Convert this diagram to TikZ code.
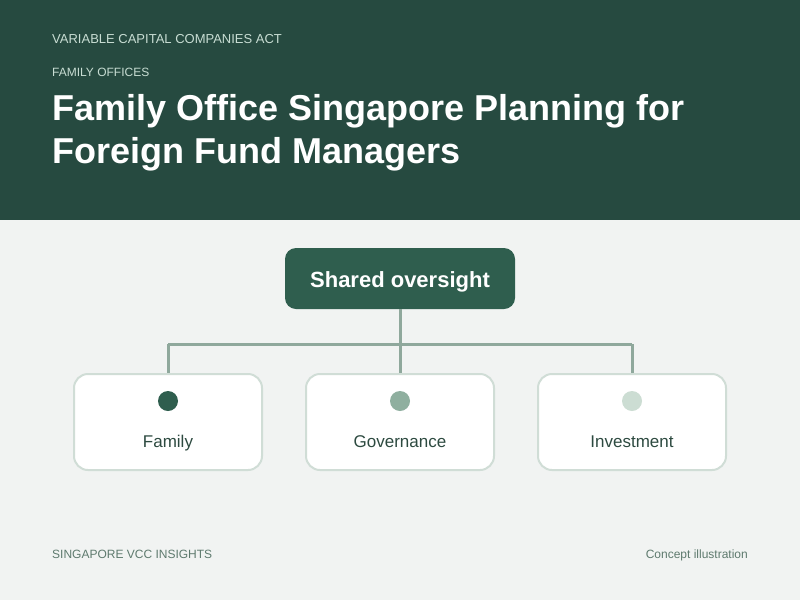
\documentclass[tikz,border=0pt]{standalone}
\usepackage{fontspec}
\setmainfont{Liberation Sans}
\definecolor{hdr}{HTML}{264A40}
\definecolor{bg}{HTML}{F1F3F2}
\definecolor{topbox}{HTML}{2F5E4E}
\definecolor{conn}{HTML}{8FA89C}
\definecolor{cardline}{HTML}{D0DDD6}
\definecolor{dotA}{HTML}{2F5E4E}
\definecolor{dotB}{HTML}{8FAF9F}
\definecolor{dotC}{HTML}{CCDDD3}
\definecolor{lbl}{HTML}{2D4A40}
\definecolor{kick}{HTML}{C8DDD3}
\definecolor{foot}{HTML}{5E7A6E}
\tikzset{
  card/.style={draw=cardline, line width=2pt, fill=white, rounded corners=14pt, minimum width=188pt, minimum height=96pt},
  topnode/.style={fill=topbox, rounded corners=11pt, minimum width=230pt, minimum height=61pt},
  toptext/.style={text=white, font=\fontsize{22}{26}\selectfont\bfseries, inner sep=0pt, anchor=base},
  connector/.style={draw=conn, line width=3pt},
  cardlabel/.style={text=lbl, font=\fontsize{17}{20}\selectfont, inner sep=0pt, anchor=base},
  txt/.style={inner sep=0pt},
}
\begin{document}
\begin{tikzpicture}[x=1pt,y=-1pt]
\fill[bg] (0,0) rectangle (800,600);
\useasboundingbox (0,0) rectangle (800,600);
\fill[hdr] (0,0) rectangle (800,220);
\node[txt, anchor=base west, text=kick, font=\fontsize{13}{15}\selectfont] (k1) at (52,43) {VARIABLE CAPITAL COMPANIES ACT};
\node[txt, anchor=base west, text=kick, font=\fontsize{12}{14}\selectfont] (k2) at (52,76) {FAMILY OFFICES};
\node[txt, anchor=base west, text=white, font=\fontsize{36}{40}\selectfont\bfseries] (t1) at (52,120) {Family Office Singapore Planning for};
\node[txt, anchor=base west, text=white, font=\fontsize{36}{40}\selectfont\bfseries] (t2) at (52,163) {Foreign Fund Managers};

\node[topnode] (top) at (400,278.5) {};
\node[toptext] (toplbl) at (400,287) {Shared oversight};
\node[card] (c1) at (168,422) {};
\node[card] (c2) at (400,422) {};
\node[card] (c3) at (632,422) {};
\coordinate (j) at (400,344);
\coordinate (j1) at (168,344);
\coordinate (j3) at (632,344);
\draw[connector] (top.south) -- (j);
\draw[connector] (j1) -- (j3);
\draw[connector] (j1) -- (c1.north);
\draw[connector] (j) -- (c2.north);
\draw[connector] (j3) -- (c3.north);

\fill[dotA] (168,401) circle (10);
\fill[dotB] (400,401) circle (10);
\fill[dotC] (632,401) circle (10);
\node[cardlabel] (l1) at (168,447) {Family};
\node[cardlabel] (l2) at (400,447) {Governance};
\node[cardlabel] (l3) at (632,447) {Investment};

\node[txt, anchor=base west, text=foot, font=\fontsize{12}{14}\selectfont] (f1) at (52,558) {SINGAPORE VCC INSIGHTS};
\node[txt, anchor=base east, text=foot, font=\fontsize{12}{14}\selectfont] (f2) at (748,558) {Concept illustration};
\end{tikzpicture}
\end{document}
